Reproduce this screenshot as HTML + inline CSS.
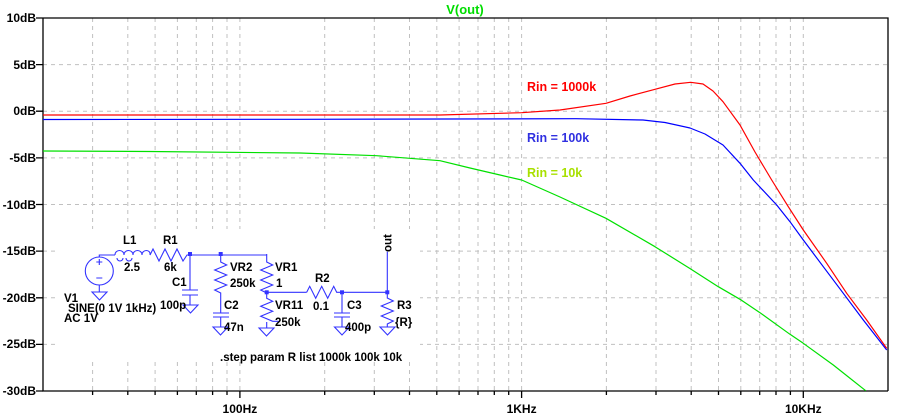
<!DOCTYPE html>
<html><head><meta charset="utf-8"><style>
html,body{margin:0;padding:0;background:#fff;}
svg{display:block;font-family:"Liberation Sans",sans-serif;}
.t{font-size:12px;font-weight:bold;fill:#000;}
.s{font-size:11.5px;font-weight:bold;fill:#000;}
</style></head><body>
<svg width="900" height="416" viewBox="0 0 900 416" xmlns="http://www.w3.org/2000/svg">
<rect width="900" height="416" fill="#fff"/>
<g stroke="#c0c0c0" stroke-width="1" stroke-dasharray="4,4" fill="none">
<path d="M92.6 18V391M127.8 18V391M155.1 18V391M177.4 18V391M196.3 18V391M212.6 18V391M227 18V391M239.9 18V391M324.7 18V391M374.3 18V391M409.5 18V391M436.8 18V391M459.1 18V391M478 18V391M494.3 18V391M508.7 18V391M521.6 18V391M606.4 18V391M656 18V391M691.2 18V391M718.5 18V391M740.8 18V391M759.7 18V391M776 18V391M790.4 18V391M803.3 18V391"/>
<path d="M43 64.6H888M43 111.2H888M43 157.9H888M43 204.5H888M43 251.1H888M43 297.8H888M43 344.4H888"/>
</g>
<rect x="57" y="229" width="363" height="133" fill="#fff"/>
<g stroke="#000" stroke-width="1.3" fill="none">
<path d="M43 18H888V391M43 18V391H888"/>
<path d="M36 18H43M36 64.6H43M36 111.2H43M36 157.9H43M36 204.5H43M36 251.1H43M36 297.8H43M36 344.4H43M36 391H43"/>
<path d="M239.9 391v7M521.6 391v7M803.3 391v7"/>
<path d="M92.6 391v4M127.8 391v4M155.1 391v4M177.4 391v4M196.3 391v4M212.6 391v4M227 391v4M324.7 391v4M374.3 391v4M409.5 391v4M436.8 391v4M459.1 391v4M478 391v4M494.3 391v4M508.7 391v4M606.4 391v4M656 391v4M691.2 391v4M718.5 391v4M740.8 391v4M759.7 391v4M776 391v4M790.4 391v4"/>
</g>
<g class="t" text-anchor="end">
<text x="36" y="22">10dB</text><text x="36" y="69">5dB</text><text x="36" y="115">0dB</text>
<text x="36" y="162">-5dB</text><text x="36" y="209">-10dB</text><text x="36" y="255">-15dB</text>
<text x="36" y="302">-20dB</text><text x="36" y="348">-25dB</text><text x="36" y="395">-30dB</text>
</g>
<g class="t" text-anchor="middle">
<text x="239.9" y="413">100Hz</text><text x="521.6" y="413">1KHz</text><text x="803.3" y="413">10KHz</text>
</g>
<text x="465" y="14" text-anchor="middle" style="font-size:13px;font-weight:bold;fill:#00dd00">V(out)</text>
<g fill="none" stroke-width="1.2" stroke-linejoin="round">
<polyline stroke="#00e000" points="43,151 150,151.5 300,153 376.6,155.7 440,160.7 470,168 500,175 521.7,180 560,197 606,218.3 655,246.7 690.7,269 700,275 718.3,286.7 740,299.3 760,312.7 790,334.3 803.3,343.3 833.3,365 865.7,390.7"/>
<polyline stroke="#0000ff" points="43,119.5 300,119.3 576,118.7 643,120 665,122.5 690,128 705,134 723,145 740,163.3 753.3,180 776.7,205 790,221.7 803.3,240 823.3,266.7 843.3,293.3 863.3,320 886.7,350"/>
<polyline stroke="#ff0000" points="43,115 300,115 440,115 521.7,112.7 560,110 606,103.3 630,96 655,89.3 675,84 690.7,82.3 703,84 713,91 723,101.7 740,125 755,152 771.7,180 788.3,206.7 803.3,230 826.7,263.3 846.7,293.3 866.7,320 886.7,348.3"/>
</g>
<text x="527" y="91" style="font-size:12.5px;font-weight:bold;fill:#ff0000">Rin = 1000k</text>
<text x="527" y="142" style="font-size:12.5px;font-weight:bold;fill:#3030e0">Rin = 100k</text>
<text x="527" y="177" style="font-size:12.5px;font-weight:bold;fill:#a8e000">Rin = 10k</text>
<g stroke="#3333ff" stroke-width="1.1" fill="none">
<circle cx="99.3" cy="271" r="14"/>
<path d="M99.3 265v-6M96.3 262h6M96.3 278h6"/>
<path d="M99.3 257V255H115"/>
<path d="M99.3 285V292"/>
<path d="M115 255c0-6 9-6 9 0c0-6 9-6 9 0c0-6 9-6 9 0c0-6 9-6 8 0"/>
<path d="M117 258a3 3 0 0 0 6 0M126 258a3 3 0 0 0 6 0"/>
<path d="M150 255l3-6l6 12l6-12l6 12l6-12l6 12l4-6H267"/>
<path d="M190 254V290M182 290h16M182 295h16M190 295V305"/>
<path d="M220.7 254v8l6 3l-12 5l12 5l-12 5l12 5l-12 5l6 3V313M213 313h16M213 317h16M220.7 317V327"/>
<path d="M266.7 254v8l6 3l-12 5l12 5l-12 5l12 5l-12 5l6 3V292.3H306.7"/>
<path d="M266.7 292.3v6l6 3l-12 5l12 5l-12 5l12 5l6 0M266.7 322V328"/>
<path d="M306.7 292.3l3-6l6 12l6-12l6 12l6-12l3 6H387.3"/>
<path d="M342 292.3V313M334 313h16M334 317h16M342 317V327"/>
<path d="M387.3 251.7V298l6 3l-12 5l12 5l-12 5l12 5l-6 3V327"/>
</g>
<g fill="none" stroke="#3333ff" stroke-width="1.1">
<path d="M92 292h15l-7.5 8z"/>
<path d="M183 305h15l-7.5 8z"/>
<path d="M213 327h15l-7.5 8z"/>
<path d="M259 328h15l-7.5 8z"/>
<path d="M334.5 327h15l-7.5 8z"/>
<path d="M380 327h15l-7.5 8z"/>
</g>
<g fill="#3333ff">
<rect x="188" y="252" width="4" height="4"/><rect x="218.7" y="252" width="4" height="4"/>
<rect x="264.7" y="290.3" width="4" height="4"/><rect x="340" y="290.3" width="4" height="4"/>
<rect x="385.3" y="290.3" width="4" height="4"/>
</g>
<g class="s">
<text x="123" y="244">L1</text><text x="124" y="271">2.5</text>
<text x="163" y="244">R1</text><text x="164" y="271">6k</text>
<text x="172" y="286">C1</text><text x="160" y="309">100p</text>
<text x="230" y="271">VR2</text><text x="230" y="287">250k</text>
<text x="224" y="309">C2</text><text x="224" y="331">47n</text>
<text x="275" y="271">VR1</text><text x="276" y="287">1</text>
<text x="315" y="282">R2</text><text x="313" y="310">0.1</text>
<text x="275" y="309">VR11</text><text x="275" y="326">250k</text>
<text x="347" y="309">C3</text><text x="345" y="331">400p</text>
<text x="397" y="309">R3</text><text x="395" y="326">{R}</text>
<text x="64" y="302">V1</text><text x="68" y="312">SINE(0 1V 1kHz)</text><text x="64" y="322">AC 1V</text>
<text transform="translate(391.5,252) rotate(-90)">out</text>
<text x="220" y="361">.step param R list 1000k 100k 10k</text>
</g>
</svg>
</body></html>
